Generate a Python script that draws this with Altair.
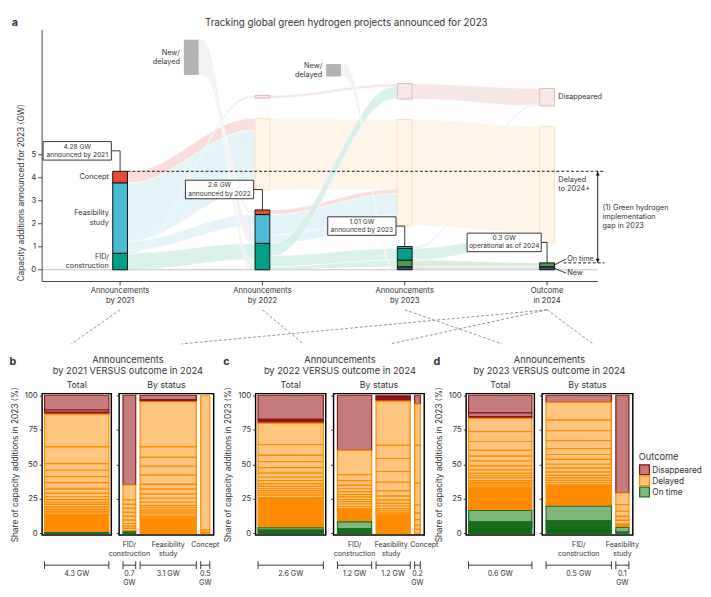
import altair as alt
import pandas as pd

FONT = "Inter"
INK = "#333333"

# ---------------- Panel a data ----------------
STAGES = [1, 2, 3, 4]
STAGE_LABELS = ["Announcements\nby 2021", "Announcements\nby 2022",
                "Announcements\nby 2023", "Outcome\nin 2024"]
Y_TICKS = [0, 1, 2, 3, 4, 5]

BAR_STAGE = [1, 1, 1, 2, 2, 2, 3, 3, 3, 3, 4, 4]
BAR_KIND = ["FID", "Feasibility", "Concept", "FID", "Feasibility", "Concept",
            "New", "On time", "FID", "Feasibility", "New", "On time"]
BAR_LO = [0, 0.72, 3.78, 0, 1.15, 2.40, 0, 0.13, 0.42, 0.93, 0, 0.13]
BAR_HI = [0.72, 3.78, 4.28, 1.15, 2.40, 2.60, 0.13, 0.42, 0.93, 1.01, 0.13, 0.30]
KIND_LABEL = {"FID": "FID/\nconstruction", "Feasibility": "Feasibility\nstudy", "Concept": "Concept"}

BOX_STAGE = [1.5, 2.5, 2, 2, 3, 3, 4, 4]
BOX_KIND = ["New/delayed", "New/delayed", "Disappeared", "Delayed",
            "Disappeared", "Delayed", "Disappeared", "Delayed"]
BOX_LO = [8.47, 8.40, 7.46, 3.47, 7.42, 1.91, 7.12, 1.19]
BOX_HI = [10.00, 8.94, 7.58, 6.57, 8.09, 6.53, 7.88, 6.23]
BOX_LABEL = {"Disappeared": "Disappeared", "Delayed": "Delayed\nto 2024+"}

FLOW_FROM = [1, 1, 1, 1, 1, 1.5, 1.5, 1.5,
             2, 2, 2, 2, 2, 2, 2, 2, 2.5,
             3, 3, 3, 3, 3, 3]
FLOW_TO = [2, 2, 2, 2, 2, 2, 2, 2,
           3, 3, 3, 3, 3, 3, 3, 3, 3,
           4, 4, 4, 4, 4, 4]
FLOW_A_LO = [3.78, 1.25, 0.84, 0.72, 0.00, 8.47, 8.67, 9.42,
             3.47, 7.46, 2.40, 1.50, 1.15, 0.62, 0.13, 0.00, 8.40,
             7.42, 1.91, 0.42, 0.93, 0.13, 0.00]
FLOW_A_HI = [4.28, 3.78, 1.25, 0.84, 0.72, 8.67, 9.42, 10.00,
             6.57, 7.58, 2.60, 2.40, 1.50, 1.15, 0.62, 0.13, 8.94,
             8.09, 6.53, 0.93, 1.01, 0.42, 0.13]
FLOW_B_LO = [6.05, 3.47, 1.90, 7.46, 0.45, 2.40, 1.15, 0.00,
             3.50, 7.95, 3.30, 2.40, 1.91, 7.42, 0.42, 0.13, 0.00,
             7.12, 1.60, 1.19, 7.12, 0.13, 0.00]
FLOW_B_HI = [6.57, 6.05, 2.40, 7.58, 1.15, 2.60, 1.90, 0.45,
             6.53, 8.09, 3.50, 3.30, 2.40, 7.95, 0.93, 0.42, 0.13,
             7.88, 6.23, 1.60, 7.20, 0.30, 0.13]
FLOW_KIND = ["rConcept", "rFeas", "rFeas", "rFeas", "rFID", "rGray", "rGray", "rGray",
             "rDelayed", "rDis", "rConcept", "rFeas", "rFeas", "rFID", "rFID", "rFID", "rGray",
             "rDis", "rDelayed", "rFID", "rFeas", "rOnTime", "rNew"]

CALLOUT_TEXT = ["4.28 GW\nannounced by 2021", "2.6 GW\nannounced by 2022",
                "1.01 GW\nannounced by 2023", "0.3 GW\noperational as of 2024"]

# dashed links from panel-a axis labels to panels b-d (stage -> panel edge)
LINK_STAGE = [1, 4, 2, 4, 3, 4]

# ---------------- Panels b-d data ----------------
OUTCOMES = ["Disappeared", "Delayed", "On time"]

B_TOTAL_EDGES = [100, 89.3, 87.7, 86.3, 62.6, 50.5, 45.7, 41.0, 36.7, 32.0, 28.9, 26.5,
                 24.4, 22.5, 20.9, 19.0, 17.3, 15.9, 14.7, 13.5, 0.5, 0]
B_TOTAL_SHADES = "DDd" + "L" * 16 + "BG"
B_STATUS = ["FID/\nconstruction", "Feasibility\nstudy", "Concept"]
B_GW = [0.7, 3.1, 0.5]
B_GW_LABEL = ["0.7\nGW", "3.1 GW", "0.5\nGW"]
B_EDGES = [[100, 35.0, 24.2, 20.9, 18.0, 15.2, 12.3, 9.5, 7.1, 5.2, 3.6, 1.9, 1.0, 0],
           [100, 96.7, 95.3, 62.6, 55.0, 48.6, 42.2, 35.5, 32.0, 28.4, 25.4, 22.5, 20.1,
            18.5, 16.8, 15.4, 14.0, 12.3, 11.1, 0],
           [100, 2.4, 0.7, 0]]
B_SHADES = ["D" + "L" * 11 + "g", "Dd" + "L" * 16 + "B", "LLL"]

C_TOTAL_EDGES = [100, 82.5, 79.8, 64.2, 56.4, 51.9, 47.6, 43.6, 40.6, 38.2, 35.8, 34.0,
                 32.3, 30.7, 29.2, 27.6, 25.9, 4.0, 2.4, 0]
C_TOTAL_SHADES = "Dd" + "L" * 14 + "BGg"
C_STATUS = ["FID/\nconstruction", "Feasibility\nstudy", "Concept"]
C_GW = [1.2, 1.2, 0.2]
C_GW_LABEL = ["1.2 GW", "1.2 GW", "0.2\nGW"]
C_EDGES = [[100, 60.1, 42.5, 38.2, 34.7, 32.3, 30.0, 28.0, 26.4, 24.5, 22.9, 21.2, 19.3,
            17.7, 8.3, 3.3, 1.6, 0],
           [100, 99.0, 97.5, 95.7, 63.7, 54.2, 44.8, 37.0, 30.7, 26.9, 24.0, 21.7, 19.8,
            17.9, 16.3, 14.6, 13.4, 0],
           [100, 93.6, 63.7, 36.3, 20.5, 14.6, 9.9, 5.7, 2.8, 0]]
C_SHADES = ["D" + "L" * 12 + "BGgg", "Ddd" + "L" * 13 + "B", "D" + "L" * 8]

D_TOTAL_EDGES = [100, 87.3, 84.5, 83.2, 73.6, 66.5, 60.1, 55.9, 52.4, 48.8, 46.0, 43.4,
                 41.7, 40.1, 38.2, 37.0, 35.8, 34.4, 33.0, 16.5, 8.3, 7.1, 5.9, 4.7, 0]
D_TOTAL_SHADES = "DDd" + "L" * 15 + "BG" + "gggg"
D_STATUS = ["FID/\nconstruction", "Feasibility\nstudy"]
D_GW = [0.5, 0.1]
D_GW_LABEL = ["0.5 GW", "0.1\nGW"]
D_EDGES = [[100, 94.8, 82.0, 74.3, 67.2, 61.3, 57.1, 53.5, 50.0, 47.2, 44.3, 42.0, 40.1,
            38.4, 36.6, 34.9, 19.6, 9.0, 8.0, 6.6, 5.2, 3.5, 0],
           [100, 29.2, 20.8, 16.0, 12.3, 9.4, 6.6, 5.9, 4.2, 0.8, 0]]
D_SHADES = ["D" + "L" * 14 + "BG" + "ggggg", "D" + "L" * 6 + "BGg"]

# ---------------- styles ----------------
HALF = 0.052
SHOULDER = 0.03
WA, HA = 570, 258
XA = alt.Scale(domain=[0.452, 4.356], nice=False, zero=False)
YA = alt.Scale(domain=[-0.51, 10.42], nice=False, zero=False)
AX = "#444444"
FS = 7.5
LH = 9.5

A_KINDS = ["FID", "Feasibility", "Concept", "On time", "New",
           "rFID", "rFeas", "rConcept", "rGray", "rDelayed", "rDis", "rOnTime", "rNew"]
A_COLORS = ["#00A087", "#4DBBD5", "#E64B35", "#4E9A45", "#3C5488",
            "#D3EEE8", "#DFF1F7", "#F9D6D6", "#F0F0F0", "#FEF3E4", "#F5E1E1", "#D5E8D0", "#D9DFE9"]
A_COLOR = alt.Scale(domain=A_KINDS, range=A_COLORS)

# ---------------- Panel a ----------------
bars_df = pd.DataFrame(dict(stage=BAR_STAGE, kind=BAR_KIND, lo=BAR_LO, hi=BAR_HI))
bars_df["x0"] = bars_df.stage - HALF
bars_df["x1"] = bars_df.stage + HALF
bars_df["mid"] = (bars_df.lo + bars_df.hi) / 2
bars_df["label"] = bars_df.kind.map(KIND_LABEL).fillna("")
bars_df["nl"] = bars_df.label.str.count("\n")

box_df = pd.DataFrame(dict(stage=BOX_STAGE, kind=BOX_KIND, lo=BOX_LO, hi=BOX_HI))
box_df["x0"] = box_df.stage - HALF
box_df["x1"] = box_df.stage + HALF
box_df["mid"] = (box_df.lo + box_df.hi) / 2

rows = []
for i in range(len(FLOW_KIND)):
    xs = FLOW_FROM[i] + HALF
    xe = FLOW_TO[i] - HALF
    pts = [(xs, FLOW_A_LO[i], FLOW_A_HI[i]), (xs + SHOULDER, FLOW_A_LO[i], FLOW_A_HI[i]),
           (xe - SHOULDER, FLOW_B_LO[i], FLOW_B_HI[i]), (xe, FLOW_B_LO[i], FLOW_B_HI[i])]
    for x, lo, hi in pts:
        rows.append(dict(fid=i, x=x, lo=lo, hi=hi, kind=FLOW_KIND[i]))
flow_df = pd.DataFrame(rows)

tops = bars_df.groupby("stage").hi.max()
call_df = pd.DataFrame(dict(stage=STAGES, value=[tops[s] for s in STAGES], text=CALLOUT_TEXT))

XN = alt.X("x0:Q", scale=XA, axis=None)
YN = alt.Y("lo:Q", scale=YA, axis=None)

# manual axes
stage_df = pd.DataFrame(dict(stage=STAGES, label=STAGE_LABELS))
ytick_df = pd.DataFrame(dict(v=Y_TICKS))
ax_y_line = alt.Chart(ytick_df.head(1)).mark_rule(color=AX, strokeWidth=1).encode(
    x=alt.value(0), y=alt.value(0), y2=alt.value(HA))
ax_x_line = alt.Chart(ytick_df.head(1)).mark_rule(color=AX, strokeWidth=1).encode(
    y=alt.value(HA), x=alt.value(0), x2=alt.value(WA))
ax_y_ticks = alt.Chart(ytick_df).mark_rule(color=AX, strokeWidth=1).encode(
    y=alt.Y("v:Q", scale=YA, axis=None), x=alt.value(-4), x2=alt.value(0))
ax_y_labels = alt.Chart(ytick_df).mark_text(align="right", baseline="middle", fontSize=8).encode(
    y=alt.Y("v:Q", scale=YA, axis=None), x=alt.value(-6), text="v:N")
ax_x_ticks = alt.Chart(stage_df).mark_rule(color=AX, strokeWidth=1).encode(
    x=alt.X("stage:Q", scale=XA, axis=None), y=alt.value(HA), y2=alt.value(HA + 4))
ax_x_labels = alt.Chart(stage_df).mark_text(baseline="top", fontSize=7.8, lineBreak="\n",
                                            lineHeight=10.5).encode(
    x=alt.X("stage:Q", scale=XA, axis=None), y=alt.value(HA + 6), text="label:N")
ax_y_title = alt.Chart(ytick_df.head(1)).mark_text(angle=270, fontSize=8.5, baseline="middle").encode(
    x=alt.value(-22), y=alt.value(167), text=alt.value("Capacity additions announced for 2023 (GW)"))

flows = alt.Chart(flow_df).mark_area(interpolate="monotone", opacity=0.85, stroke="white",
                                     strokeWidth=0.6).encode(
    x=alt.X("x:Q", scale=XA, axis=None),
    y=alt.Y("lo:Q", scale=YA, axis=None),
    y2="hi:Q",
    detail="fid:N",
    color=alt.Color("kind:N", scale=A_COLOR, legend=None),
)

baseline = alt.Chart(pd.DataFrame({"y": [0]})).mark_rule(color="#C4C4C4", strokeWidth=1).encode(
    y=alt.Y("y:Q", scale=YA, axis=None), x=alt.value(0), x2=alt.value(WA))

box_enc = dict(x=XN, x2="x1:Q", y=YN, y2="hi:Q")
gray_boxes = alt.Chart(box_df).transform_filter("datum.kind == 'New/delayed'").mark_rect(
    fill="#B3B3B3").encode(**box_enc)
dis_boxes = alt.Chart(box_df).transform_filter("datum.kind == 'Disappeared'").mark_rect(
    fill="#F6E7E7", stroke="#DDBABA", strokeWidth=1).encode(**box_enc)
del_boxes = alt.Chart(box_df).transform_filter("datum.kind == 'Delayed'").mark_rect(
    fill="#FEF5E9", stroke="#F8DFBE", strokeWidth=1).encode(**box_enc)

main_bars = alt.Chart(bars_df).mark_rect(stroke="black", strokeWidth=0.9).encode(
    x=XN, x2="x1:Q", y=YN, y2="hi:Q",
    color=alt.Color("kind:N", scale=A_COLOR, legend=None))

# status labels next to the 2021 bar (multi-line ones lifted by half a line)
one_line = alt.Chart(bars_df).transform_filter("datum.stage == 1 && datum.nl == 0").mark_text(
    align="right", baseline="middle", dx=-4, fontSize=FS).encode(
    x=XN, y=alt.Y("mid:Q", scale=YA, axis=None), text="label:N")
two_line = alt.Chart(bars_df).transform_filter("datum.stage == 1 && datum.nl == 1").mark_text(
    align="right", baseline="middle", dx=-4, dy=-LH / 2, fontSize=FS, lineBreak="\n", lineHeight=LH).encode(
    x=XN, y=alt.Y("mid:Q", scale=YA, axis=None), text="label:N")

newdel_labels = alt.Chart(box_df).transform_filter("datum.kind == 'New/delayed'").mark_text(
    align="right", baseline="middle", dx=-4, dy=-LH / 2, fontSize=FS, lineBreak="\n", lineHeight=LH).encode(
    x=XN, y=alt.Y("mid:Q", scale=YA, axis=None), text=alt.value("New/\ndelayed"))

box_df_lab = box_df[box_df.stage == 4].copy()
box_df_lab["label"] = box_df_lab.kind.map(BOX_LABEL)
dis_label = alt.Chart(box_df_lab).transform_filter("datum.kind == 'Disappeared'").mark_text(
    align="left", baseline="middle", dx=4, fontSize=FS).encode(
    x=alt.X("x1:Q", scale=XA, axis=None), y=alt.Y("mid:Q", scale=YA, axis=None), text="label:N")
del_label = alt.Chart(box_df_lab).transform_filter("datum.kind == 'Delayed'").mark_text(
    align="left", baseline="middle", dx=4, dy=-LH / 2, fontSize=FS, lineBreak="\n", lineHeight=LH).encode(
    x=alt.X("x1:Q", scale=XA, axis=None), y=alt.Y("mid:Q", scale=YA, axis=None), text="label:N")

gap_df = pd.DataFrame(dict(x=[1 + HALF], top=[tops[1]], bot=[tops[4]]))
gap_df["mid"] = (gap_df.top + gap_df.bot) / 2
dash_top = alt.Chart(gap_df).mark_rule(strokeDash=[3, 2], color="black", strokeWidth=0.9).encode(
    x=alt.X("x:Q", scale=XA, axis=None), x2=alt.value(577), y=alt.Y("top:Q", scale=YA, axis=None))
dash_bot = alt.Chart(gap_df).mark_rule(strokeDash=[3, 2], color="black", strokeWidth=0.9).encode(
    x=alt.value(535), x2=alt.value(577), y=alt.Y("bot:Q", scale=YA, axis=None))
arrow = alt.Chart(gap_df).mark_rule(color="black", strokeWidth=0.9).encode(
    x=alt.value(570), y=alt.Y("top:Q", scale=YA, axis=None), y2="bot:Q")
head_up = alt.Chart(gap_df).mark_point(shape="triangle-up", filled=True, size=16, color="black",
                                       opacity=1, yOffset=2.5).encode(
    x=alt.value(570), y=alt.Y("top:Q", scale=YA, axis=None))
head_dn = alt.Chart(gap_df).mark_point(shape="triangle-down", filled=True, size=16, color="black",
                                       opacity=1, yOffset=-2.5).encode(
    x=alt.value(570), y=alt.Y("bot:Q", scale=YA, axis=None))
gap_text = alt.Chart(gap_df).mark_text(align="left", baseline="middle", fontSize=FS, dy=-LH,
                                       lineBreak="\n", lineHeight=LH).encode(
    x=alt.value(575), y=alt.Y("mid:Q", scale=YA, axis=None),
    text=alt.value("(1) Green hydrogen\nimplementation\ngap in 2023"))

end_df = bars_df[bars_df.stage == 4].copy()
end_df["label"] = end_df.kind.map({"On time": "On time", "New": "New"})
on_df = end_df[end_df.kind == "On time"]
new_df = end_df[end_df.kind == "New"]


def end_label(df, dy):
    line = alt.Chart(df).mark_rule(color="black", strokeWidth=0.8, x2Offset=12, y2Offset=dy).encode(
        x=alt.X("x1:Q", scale=XA, axis=None), x2="x1:Q",
        y=alt.Y("mid:Q", scale=YA, axis=None), y2="mid:Q")
    txt = alt.Chart(df).mark_text(align="left", baseline="middle", dx=13, dy=dy, fontSize=FS).encode(
        x=alt.X("x1:Q", scale=XA, axis=None), y=alt.Y("mid:Q", scale=YA, axis=None), text="label:N")
    return [line, txt]


XS = alt.X("stage:Q", scale=XA, axis=None)
YV = alt.Y("value:Q", scale=YA, axis=None)
box_small = alt.Chart(call_df).transform_filter("datum.stage < 4").mark_rect(
    fill="white", stroke="black", strokeWidth=0.8,
    xOffset=-79, x2Offset=-9, yOffset=-30.5, y2Offset=-11.5).encode(x=XS, x2="stage:Q", y=YV, y2="value:Q")
box_wide = alt.Chart(call_df).transform_filter("datum.stage == 4").mark_rect(
    fill="white", stroke="black", strokeWidth=0.8,
    xOffset=-82, x2Offset=-6, yOffset=-30.5, y2Offset=-11.5).encode(x=XS, x2="stage:Q", y=YV, y2="value:Q")
conn_h = alt.Chart(call_df).mark_rule(color="black", strokeWidth=0.8, xOffset=-9, x2Offset=0,
                                      yOffset=-21, y2Offset=-21).encode(x=XS, x2="stage:Q", y=YV, y2="value:Q")
conn_v = alt.Chart(call_df).mark_rule(color="black", strokeWidth=0.8, yOffset=-21, y2Offset=0).encode(
    x=XS, y=YV, y2="value:Q")
call_text = alt.Chart(call_df).mark_text(fontSize=6.8, lineBreak="\n", lineHeight=8.5, dx=-44, dy=-25.3,
                                         baseline="middle").encode(x=XS, y=YV, text="text:N")

head_a = pd.DataFrame({"t": ["a"], "title": ["Tracking global green hydrogen projects announced for 2023"]})
letter_a = alt.Chart(head_a).mark_text(fontWeight="bold", fontSize=11, baseline="middle").encode(
    x=alt.value(-28), y=alt.value(-7), text="t:N")
title_a = alt.Chart(head_a).mark_text(fontSize=10, baseline="middle").encode(
    x=alt.value(WA / 2 + 27), y=alt.value(-7), text="title:N")

# dashed links toward panels b-d (pixel targets below panel a)
link_df = pd.DataFrame(dict(stage=LINK_STAGE))
link_targets = [30, 143, 268, 357, 472, 565]
link_layers = []
for i, tx in enumerate(link_targets):
    link_layers.append(
        alt.Chart(link_df.iloc[[i]]).mark_rule(color="#777777", strokeWidth=0.8, strokeDash=[3, 2]).encode(
            x=alt.X("stage:Q", scale=XA, axis=None), y=alt.value(HA + 29),
            x2=alt.value(tx), y2=alt.value(HA + 64)))

panel_a = alt.layer(
    flows, baseline, gray_boxes, dis_boxes, del_boxes, main_bars, one_line, two_line,
    newdel_labels, dis_label, del_label, dash_top, dash_bot, arrow, head_up, head_dn, gap_text,
    *end_label(on_df, -6), *end_label(new_df, 5),
    conn_h, conn_v, box_small, box_wide, call_text,
    ax_y_line, ax_x_line, ax_y_ticks, ax_y_labels, ax_x_ticks, ax_x_labels, ax_y_title,
    letter_a, title_a, *link_layers,
).properties(width=WA, height=HA)

# ---------------- Panels b-d ----------------
SHADE_NAME = {"D": "Disappeared", "L": "Delayed", "G": "On time",
              "d": "Disappeared+", "B": "Delayed+", "g": "On time+"}
SH_DOMAIN = ["Disappeared", "Delayed", "On time", "Disappeared+", "Delayed+", "On time+"]
FILL = alt.Scale(domain=SH_DOMAIN, range=["#C47C7C", "#FFC47D", "#80B67C", "#8E1414", "#FF8C00", "#0E6B12"])
STROKE = alt.Scale(domain=SH_DOMAIN, range=["#8E1414", "#FF8C00", "#1E6E1E", "#8E1414", "#FF8C00", "#1E6E1E"])
YB = alt.Scale(domain=[-1.2, 101.2], nice=False, zero=False)
HB = 145
INNER = 8


def seg_rows(edges, shades, x0, x1):
    return [dict(x0=x0, x1=x1, y0=edges[i + 1], y1=edges[i], shade=SHADE_NAME[shades[i]])
            for i in range(len(shades))]


def mosaic(gws, width, gap_px=4.5, margin_px=4):
    ppg = (width - 2 * margin_px - gap_px * (len(gws) - 1)) / sum(gws)
    x0s, pos = [], 0.0
    for g in gws:
        x0s.append(pos)
        pos += g + gap_px / ppg
    end = pos - gap_px / ppg
    return x0s, [a + g for a, g in zip(x0s, gws)], [-margin_px / ppg, end + margin_px / ppg], ppg


def seg_chart(seg_df, info_df, xdomain, width, title, yaxis, extra=()):
    xs = alt.Scale(domain=xdomain, nice=False, zero=False)
    rects = alt.Chart(seg_df).mark_rect(strokeWidth=1.2).encode(
        x=alt.X("x0:Q", scale=xs, axis=alt.Axis(values=list(info_df.xc), labels=False, title=None,
                                                 grid=False, domain=False, tickSize=3)),
        x2="x1:Q",
        y=alt.Y("y0:Q", scale=YB, axis=yaxis),
        y2="y1:Q",
        fill=alt.Fill("shade:N", scale=FILL, legend=None),
        stroke=alt.Stroke("shade:N", scale=STROKE, legend=None),
    )
    base = alt.Chart(info_df)
    XI = alt.X("x0:Q", scale=xs, axis=None)
    hrule = base.mark_rule(color=INK, strokeWidth=1).encode(x=XI, x2="x1:Q", y=alt.value(HB + 31))
    capl = base.mark_rule(color=INK, strokeWidth=1).encode(x=XI, y=alt.value(HB + 27), y2=alt.value(HB + 35))
    capr = base.mark_rule(color=INK, strokeWidth=1).encode(
        x=alt.X("x1:Q", scale=xs, axis=None), y=alt.value(HB + 27), y2=alt.value(HB + 35))
    gwt = base.mark_text(fontSize=7.3, baseline="top", lineBreak="\n", lineHeight=9).encode(
        x=alt.X("xc:Q", scale=xs, axis=None), y=alt.value(HB + 36), text="gw:N")
    cat = base.mark_text(fontSize=7.2, baseline="top", lineBreak="\n", lineHeight=9.5).encode(
        x=alt.X("xl:Q", scale=xs, axis=None), y=alt.value(HB + 6), text="cat:N")
    ttl = alt.Chart(pd.DataFrame({"t": [title]})).mark_text(fontSize=9, baseline="middle").encode(
        x=alt.value(width / 2), y=alt.value(-9), text="t:N")
    return alt.layer(rects, hrule, capl, capr, gwt, cat, ttl, *extra).properties(
        width=width, height=HB,
        view=alt.ViewBackground(stroke="black", strokeWidth=1.5),
    )


Y_TOTAL = alt.Axis(values=[0, 25, 50, 75, 100], title="Share of capacity additions in 2023 (%)",
                   grid=False, domain=False, tickSize=3, labelFontSize=8, titleFontSize=8.5,
                   titleFontWeight="normal", titlePadding=5, labelPadding=2)
Y_STATUS = alt.Axis(values=[0, 25, 50, 75, 100], labels=False, title=None, grid=False,
                    domain=False, tickSize=3)


def legend_layers(w):
    out = [alt.Chart(pd.DataFrame({"t": ["Outcome"]})).mark_text(
        fontSize=9.5, align="left", baseline="middle").encode(
        x=alt.value(w + 6), y=alt.value(65), text="t:N")]
    for i, name in enumerate(OUTCOMES):
        d = pd.DataFrame({"shade": [name]})
        out.append(alt.Chart(d).mark_point(shape="square", filled=True, size=100, strokeWidth=1.3,
                                           opacity=1).encode(
            x=alt.value(w + 12), y=alt.value(78 + 11.5 * i),
            fill=alt.Fill("shade:N", scale=FILL, legend=None),
            stroke=alt.Stroke("shade:N", scale=STROKE, legend=None)))
        out.append(alt.Chart(d).mark_text(fontSize=8.5, align="left", baseline="middle").encode(
            x=alt.value(w + 20), y=alt.value(78 + 11.5 * i), text="shade:N"))
    return out


def panel(letter, year, total_edges, total_shades, total_label, statuses, gws, gw_labels,
          edges, shades, w_total, w_status, legend=False, nudge=None):
    mt = 2.5 / (w_total - 5)
    tseg = pd.DataFrame(seg_rows(total_edges, total_shades, 0, 1))
    tinfo = pd.DataFrame(dict(x0=[0], x1=[1], xc=[0.5], xl=[0.5], gw=[total_label], cat=[""]))
    head = pd.DataFrame({"letter": [letter],
                         "title": [f"Announcements\nby {year} VERSUS outcome in 2024"]})
    extra = [
        alt.Chart(head).mark_text(fontWeight="bold", fontSize=11, baseline="middle").encode(
            x=alt.value(-30), y=alt.value(-32), text="letter:N"),
        alt.Chart(head).mark_text(fontSize=9.5, baseline="middle", lineBreak="\n", lineHeight=11).encode(
            x=alt.value((w_total + INNER + w_status) / 2), y=alt.value(-34), text="title:N"),
    ]
    total = seg_chart(tseg, tinfo, [-mt, 1 + mt], w_total, "Total", Y_TOTAL, extra)
    x0s, x1s, dom, ppg = mosaic(gws, w_status)
    nudge = nudge or [0] * len(gws)
    rows = []
    for i in range(len(gws)):
        rows += seg_rows(edges[i], shades[i], x0s[i], x1s[i])
    sseg = pd.DataFrame(rows)
    xc = [(a + b) / 2 for a, b in zip(x0s, x1s)]
    sinfo = pd.DataFrame(dict(x0=x0s, x1=x1s, xc=xc, xl=[c + n / ppg for c, n in zip(xc, nudge)],
                              gw=gw_labels, cat=statuses))
    status = seg_chart(sseg, sinfo, dom, w_status, "By status", Y_STATUS,
                       legend_layers(w_status) if legend else ())
    return [total, status]


def spacer(w):
    return alt.Chart(pd.DataFrame({"v": [0]})).mark_point(opacity=0).encode(
        x=alt.value(0), y=alt.value(0)).properties(width=w, height=HB)


pb = panel("b", 2021, B_TOTAL_EDGES, B_TOTAL_SHADES, "4.3 GW", B_STATUS, B_GW, B_GW_LABEL,
           B_EDGES, B_SHADES, 71, 97)
pc = panel("c", 2022, C_TOTAL_EDGES, C_TOTAL_SHADES, "2.6 GW", C_STATUS, C_GW, C_GW_LABEL,
           C_EDGES, C_SHADES, 72, 93, nudge=[0, -2, 7])
pd_ = panel("d", 2023, D_TOTAL_EDGES, D_TOTAL_SHADES, "0.6 GW", D_STATUS, D_GW, D_GW_LABEL,
            D_EDGES, D_SHADES, 70, 93, legend=True)

bottom = alt.hconcat(*pb, spacer(26.5), *pc, spacer(26.5), *pd_, spacing=INNER, bounds="flush")

chart = alt.vconcat(panel_a, bottom, spacing=115, bounds="flush").resolve_scale(
    color="independent").properties(
    padding={"left": 0, "top": 2, "right": 0, "bottom": 0}
).configure(font=FONT).configure_view(stroke=None).configure_axis(
    labelColor=INK, titleColor=INK, domainColor=INK, tickColor=INK, labelFont=FONT, titleFont=FONT
).configure_title(color=INK, font=FONT).configure_text(color=INK, font=FONT)

chart.save("out.html", embed_options={"renderer": "svg", "actions": False})
